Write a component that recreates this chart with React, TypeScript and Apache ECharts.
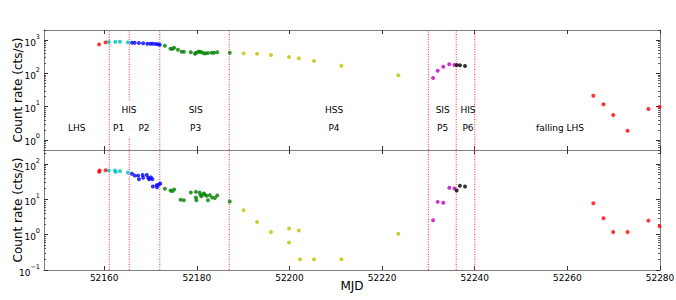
import React, { useEffect, useRef } from 'react';
import * as echarts from 'echarts';

// ---------- axis ranges & ticks ----------
const X_MIN = 52147;
const X_MAX = 52280;
const X_TICKS = [52160, 52180, 52200, 52220, 52240, 52260, 52280];
const TOP_Y_MIN = 0.5;
const TOP_Y_MAX = 2000;
const BOT_Y_MIN = 0.1;
const BOT_Y_MAX = 250;
const TOP_Y_TICKS = [1, 10, 100, 1000];
const BOT_Y_TICKS = [0.1, 1, 10, 100];

// state-transition lines (MJD)
const STATE_LINES = [52161.1, 52165.4, 52172, 52187, 52230, 52236, 52240];

// ---------- top panel data ----------
const T_RED_X = [52158.9, 52160.3];
const T_RED_Y = [740, 850];
const T_CYAN_X = [52161.0, 52162.4, 52163.4, 52165.1];
const T_CYAN_Y = [870, 885, 885, 850];
const T_BLUE_X = [52166.0, 52166.6, 52167.5, 52168.4, 52169.3, 52170.0, 52170.5, 52171.1, 52171.6, 52172.0];
const T_BLUE_Y = [830, 830, 810, 795, 775, 775, 770, 760, 745, 725];
const T_GREEN_X = [52173.1, 52174.3, 52174.7, 52175.1, 52175.9, 52176.7, 52177.2, 52178.7, 52179.6, 52179.8, 52180.3, 52180.6, 52181.0, 52181.5, 52181.9, 52182.4, 52183.2, 52183.7, 52184.4, 52187.1];
const T_GREEN_Y = [674, 548, 548, 588, 512, 446, 446, 427, 388, 407, 446, 446, 427, 398, 398, 407, 416, 416, 427, 416];
const T_YELLOW_X = [52190.1, 52193.0, 52196.0, 52199.9, 52202.0, 52205.3, 52211.2, 52223.5];
const T_YELLOW_Y = [398, 388, 355, 309, 282, 234, 169, 87];
const T_MAGENTA_X = [52231.0, 52232.0, 52233.2, 52234.5, 52235.6];
const T_MAGENTA_Y = [72, 120, 158, 187, 178];
const T_BLACK_X = [52236.1, 52236.8, 52237.9];
const T_BLACK_Y = [178, 174, 166];
const T_FALL_X = [52265.6, 52267.8, 52269.9, 52273.0, 52277.5, 52279.9];
const T_FALL_Y = [21.3, 11.8, 5.6, 1.9, 8.5, 9.8];

// ---------- bottom panel data ----------
const B_RED_X = [52158.9, 52159.0, 52160.3];
const B_RED_Y = [60, 66, 67];
const B_CYAN_X = [52161.0, 52162.3, 52162.5, 52163.4, 52165.1];
const B_CYAN_Y = [66, 66, 60, 63, 58];
const B_BLUE_X = [52166.0, 52166.6, 52167.3, 52167.5, 52168.3, 52168.4, 52169.2, 52169.5, 52169.7, 52170.1, 52170.4, 52170.5, 52171.3, 52171.4, 52171.8, 52172.1];
const B_BLUE_Y = [53, 47, 47, 37, 49, 41, 49, 41, 37, 42, 37, 23, 25, 22, 26.5, 28];
const B_GREEN_X = [52173.1, 52174.3, 52174.7, 52175.1, 52176.5, 52177.2, 52178.7, 52179.8, 52179.8, 52179.9, 52180.6, 52180.8, 52181.0, 52181.5, 52181.7, 52182.1, 52182.4, 52182.8, 52183.3, 52183.9, 52184.4, 52187.1];
const B_GREEN_Y = [19.9, 17.9, 17.1, 19.1, 9.7, 9.5, 15.7, 16.3, 11.3, 9.5, 15.7, 13.4, 12.3, 14.7, 13.8, 12.6, 9.5, 13.2, 11.3, 11.0, 12.9, 8.7];
const B_YELLOW_X = [52190.1, 52193.0, 52196.0, 52199.9, 52199.9, 52202.0, 52202.3, 52205.3, 52211.2, 52223.5];
const B_YELLOW_Y = [4.9, 2.3, 1.19, 1.49, 0.6, 1.31, 0.2, 0.2, 0.2, 1.07];
const B_MAGENTA_X = [52231.0, 52232.0, 52233.2, 52234.5, 52235.6];
const B_MAGENTA_Y = [2.56, 8.5, 8.0, 21.2, 20.4];
const B_BLACK_X = [52236.1, 52236.8, 52237.9];
const B_BLACK_Y = [17.9, 24.2, 23.2];
const B_FALL_X = [52265.6, 52267.8, 52269.9, 52273.0, 52277.5, 52279.9];
const B_FALL_Y = [7.8, 2.9, 1.19, 1.19, 2.5, 1.73];

// ---------- annotations ----------
const STATE_LABELS = [
  { text: 'LHS', x: 76.7, y: 128 },
  { text: 'HIS', x: 129, y: 110 },
  { text: 'P1', x: 118.7, y: 128 },
  { text: 'P2', x: 144, y: 128 },
  { text: 'SIS', x: 195.7, y: 110 },
  { text: 'P3', x: 195.7, y: 128 },
  { text: 'HSS', x: 334, y: 110 },
  { text: 'P4', x: 334, y: 128 },
  { text: 'SIS', x: 442.7, y: 110 },
  { text: 'P5', x: 442.7, y: 128 },
  { text: 'HIS', x: 468, y: 110 },
  { text: 'P6', x: 468, y: 128 },
  { text: 'falling LHS', x: 560, y: 128 },
];

const COLORS = {
  red: '#ff0000',
  cyan: '#00bfbf',
  blue: '#0000ff',
  green: '#008000',
  yellow: '#bfbf00',
  magenta: '#bf00bf',
  black: '#000000',
};

const FONT = 'DejaVu Sans';
const AXIS_COLOR = '#808080';

function zip(xs: number[], ys: number[]) {
  return xs.map((x, i) => [x, ys[i]]);
}

function minorTicks(min: number, max: number) {
  const out: number[] = [];
  for (let n = Math.floor(Math.log10(min)); n <= Math.ceil(Math.log10(max)); n++) {
    for (let k = 2; k <= 9; k++) {
      const v = parseFloat((k * Math.pow(10, n)).toPrecision(6));
      if (v >= min && v <= max) out.push(v);
    }
  }
  return out;
}

function powLabel(v: number) {
  const e = Math.round(Math.log10(v));
  const s = e < 0 ? '\u2212' + -e : String(e);
  return `{b|10}{s|${s}}`;
}

export default function App() {
  const ref = useRef<HTMLDivElement>(null);

  useEffect(() => {
    document.body.style.margin = '0';
    if (!ref.current) return;
    const chart = echarts.init(ref.current, undefined, { renderer: 'svg' });

    const grids = [
      { left: 44, top: 30, width: 616, height: 120, outerBoundsMode: 'none', containLabel: false },
      { left: 44, top: 150, width: 616, height: 120, outerBoundsMode: 'none', containLabel: false },
    ];

    const xAxisBase = (gridIndex: number, position: string, showLabel: boolean) => ({
      gridIndex,
      type: 'value',
      min: X_MIN,
      max: X_MAX,
      position,
      axisLine: { show: true, onZero: false, lineStyle: { color: AXIS_COLOR, width: 1 } },
      axisTick: { show: true, inside: true, length: 4, customValues: X_TICKS, lineStyle: { color: '#333', width: 1 } },
      axisLabel: {
        show: showLabel,
        customValues: X_TICKS,
        formatter: (v: number) => String(v),
        fontSize: 9,
        fontFamily: FONT,
        color: '#000',
        margin: 3,
      },
      splitLine: { show: false },
    });

    const xAxes: any[] = [
      xAxisBase(0, 'bottom', false),
      xAxisBase(0, 'top', false),
      {
        ...xAxisBase(1, 'bottom', true),
        name: 'MJD',
        nameLocation: 'middle',
        nameGap: 10,
        nameMoveOverlap: false,
        nameTextStyle: { fontSize: 12, fontFamily: FONT, color: '#000', verticalAlign: 'top' },
      },
      xAxisBase(1, 'top', false),
    ];

    const yMajor = (gridIndex: number, position: string, min: number, max: number, ticks: number[], showLabel: boolean) => ({
      gridIndex,
      type: 'log',
      logBase: 10,
      min,
      max,
      position,
      axisLine: { show: true, lineStyle: { color: AXIS_COLOR, width: 1 } },
      axisTick: { show: true, inside: true, length: 4, customValues: ticks, lineStyle: { color: '#333', width: 1 } },
      axisLabel: {
        show: showLabel,
        customValues: ticks,
        formatter: (v: number) => powLabel(v),
        margin: 4,
        rich: {
          b: { fontSize: 9, fontFamily: FONT, color: '#000', lineHeight: 14, verticalAlign: 'bottom' },
          s: { fontSize: 6.5, fontFamily: FONT, color: '#000', lineHeight: 8, verticalAlign: 'top' },
        },
      },
      splitLine: { show: false },
      ...(showLabel
        ? {
            name: 'Count rate (cts/s)',
            nameLocation: 'middle',
            nameGap: 20,
            nameMoveOverlap: false,
            nameTextStyle: { fontSize: 12, fontFamily: FONT, color: '#000' },
          }
        : {}),
    });

    const yMinor = (gridIndex: number, position: string, min: number, max: number) => ({
      gridIndex,
      type: 'log',
      logBase: 10,
      min,
      max,
      position,
      axisLine: { show: false },
      axisTick: { show: true, inside: true, length: 2, customValues: minorTicks(min, max), lineStyle: { color: '#333', width: 0.8 } },
      axisLabel: { show: false, customValues: minorTicks(min, max) },
      splitLine: { show: false },
    });

    const yAxes: any[] = [
      yMajor(0, 'left', TOP_Y_MIN, TOP_Y_MAX, TOP_Y_TICKS, true),
      yMajor(0, 'right', TOP_Y_MIN, TOP_Y_MAX, TOP_Y_TICKS, false),
      yMinor(0, 'left', TOP_Y_MIN, TOP_Y_MAX),
      yMinor(0, 'right', TOP_Y_MIN, TOP_Y_MAX),
      yMajor(1, 'left', BOT_Y_MIN, BOT_Y_MAX, BOT_Y_TICKS, true),
      yMajor(1, 'right', BOT_Y_MIN, BOT_Y_MAX, BOT_Y_TICKS, false),
      yMinor(1, 'left', BOT_Y_MIN, BOT_Y_MAX),
      yMinor(1, 'right', BOT_Y_MIN, BOT_Y_MAX),
    ];

    const scatter = (xs: number[], ys: number[], color: string, panel: number) => ({
      type: 'scatter',
      xAxisIndex: panel === 0 ? 0 : 2,
      yAxisIndex: panel === 0 ? 0 : 4,
      symbol: 'circle',
      symbolSize: 4,
      itemStyle: { color },
      data: zip(xs, ys),
      z: 3,
      silent: true,
    });

    const vline = (x: number, y0: number, y1: number, panel: number) => ({
      type: 'line',
      xAxisIndex: panel === 0 ? 0 : 2,
      yAxisIndex: panel === 0 ? 0 : 4,
      data: [
        [x, y0],
        [x, y1],
      ],
      symbol: 'none',
      lineStyle: { color: '#ff3030', width: 1, type: [1, 1.5] },
      z: 2,
      silent: true,
    });

    const lineSeries: any[] = [];
    STATE_LINES.forEach((x) => {
      if (x === 52165.4) {
        lineSeries.push(vline(x, 15.8, TOP_Y_MAX, 0));
        lineSeries.push(vline(x, TOP_Y_MIN, 1.23, 0));
      } else {
        lineSeries.push(vline(x, TOP_Y_MIN, TOP_Y_MAX, 0));
      }
      lineSeries.push(vline(x, BOT_Y_MIN, BOT_Y_MAX, 1));
    });

    const series: any[] = [
      ...lineSeries,
      scatter(T_RED_X, T_RED_Y, COLORS.red, 0),
      scatter(T_CYAN_X, T_CYAN_Y, COLORS.cyan, 0),
      scatter(T_BLUE_X, T_BLUE_Y, COLORS.blue, 0),
      scatter(T_GREEN_X, T_GREEN_Y, COLORS.green, 0),
      scatter(T_YELLOW_X, T_YELLOW_Y, COLORS.yellow, 0),
      scatter(T_MAGENTA_X, T_MAGENTA_Y, COLORS.magenta, 0),
      scatter(T_BLACK_X, T_BLACK_Y, COLORS.black, 0),
      scatter(T_FALL_X, T_FALL_Y, COLORS.red, 0),
      scatter(B_RED_X, B_RED_Y, COLORS.red, 1),
      scatter(B_CYAN_X, B_CYAN_Y, COLORS.cyan, 1),
      scatter(B_BLUE_X, B_BLUE_Y, COLORS.blue, 1),
      scatter(B_GREEN_X, B_GREEN_Y, COLORS.green, 1),
      scatter(B_YELLOW_X, B_YELLOW_Y, COLORS.yellow, 1),
      scatter(B_MAGENTA_X, B_MAGENTA_Y, COLORS.magenta, 1),
      scatter(B_BLACK_X, B_BLACK_Y, COLORS.black, 1),
      scatter(B_FALL_X, B_FALL_Y, COLORS.red, 1),
    ];

    const graphic = STATE_LABELS.map((l) => ({
      type: 'text',
      x: l.x,
      y: l.y,
      silent: true,
      z: 10,
      style: {
        text: l.text,
        fill: '#000',
        font: `9px "${FONT}"`,
        align: 'center',
        verticalAlign: 'middle',
      },
    }));

    chart.setOption({
      animation: false,
      backgroundColor: '#fff',
      grid: grids,
      xAxis: xAxes,
      yAxis: yAxes,
      series,
      graphic,
    });

    return () => chart.dispose();
  }, []);

  return <div ref={ref} style={{ width: 676, height: 300 }} />;
}
